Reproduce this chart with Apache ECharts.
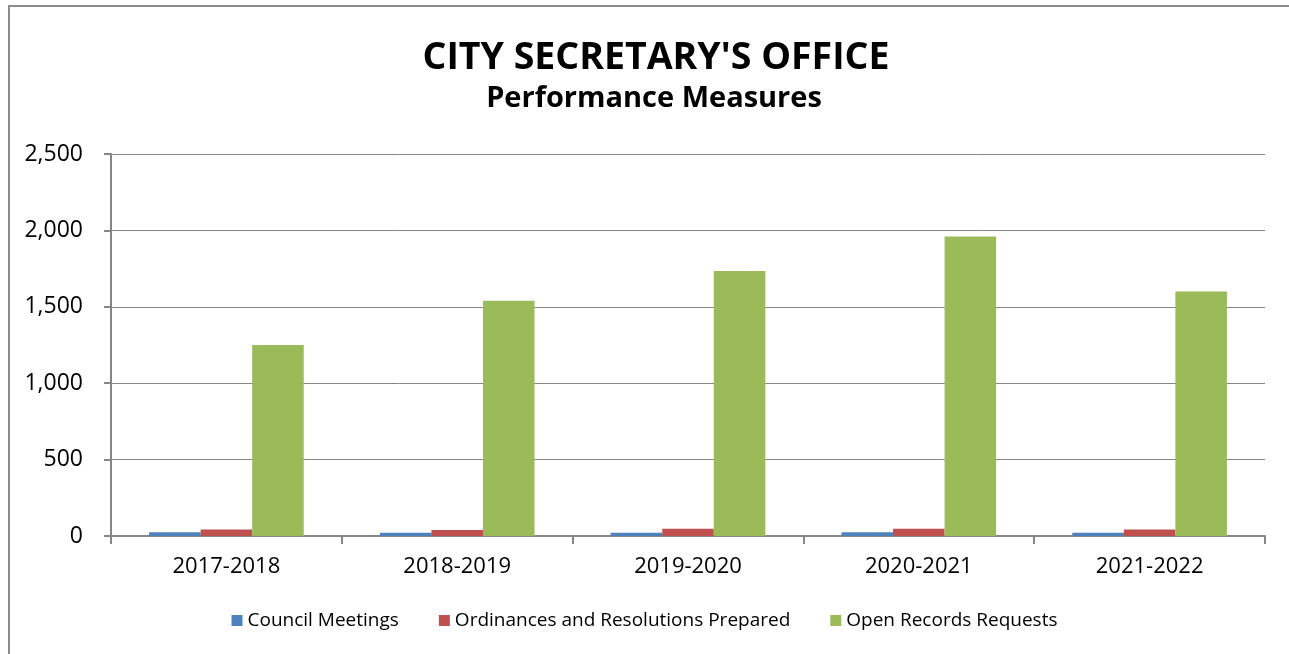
<!DOCTYPE html>
<html>
<head>
<meta charset="utf-8">
<script src="https://cdn.jsdelivr.net/npm/echarts@6/dist/echarts.min.js"></script>
<style>
  html, body { margin: 0; padding: 0; background: #fff; }
  #frame { position: absolute; left: 8px; top: 5px; width: 1290px; height: 660px; border: 2px solid #8c8c8c; box-sizing: border-box; }
  #chart { position: absolute; left: 0; top: 0; width: 1289px; height: 654px; }
</style>
</head>
<body>
<div id="frame"></div>
<div id="chart"></div>
<script>
// fiscal years
var years = ['2017-2018', '2018-2019', '2019-2020', '2020-2021', '2021-2022'];
var councilMeetings = [24, 22, 22, 24, 22];
var ordinances = [42, 40, 48, 48, 42];
var openRecords = [1250, 1540, 1735, 1960, 1600];
var yTicks = [0, 500, 1000, 1500, 2000, 2500];

var font = 'Open Sans';
var chart = echarts.init(document.getElementById('chart'));

function bar(name, data, color) {
  return {
    name: name,
    type: 'bar',
    data: data,
    barGap: '0%',
    barCategoryGap: '33%',
    itemStyle: { color: color },
    emphasis: { disabled: true }
  };
}

chart.setOption({
  animation: false,
  title: [
    {
      text: "CITY SECRETARY'S OFFICE",
      left: 651, top: 34, textAlign: 'center',
      textStyle: { fontFamily: font, fontSize: 37.5, fontWeight: 'bold', color: '#000' }
    },
    {
      text: 'Performance Measures',
      left: 649, top: 79, textAlign: 'center',
      textStyle: { fontFamily: font, fontSize: 29, fontWeight: 'bold', color: '#000' }
    }
  ],
  legend: {
    bottom: 19,
    left: 'center',
    itemWidth: 11,
    itemHeight: 11,
    itemGap: 40,
    icon: 'rect',
    textStyle: { fontFamily: font, fontSize: 19, color: '#000' },
    data: ['Council Meetings', 'Ordinances and Resolutions Prepared', 'Open Records Requests']
  },
  grid: { left: 111, right: 24, top: 154, bottom: 118 },
  xAxis: {
    type: 'category',
    data: years,
    axisLine: { lineStyle: { color: '#868686', width: 2 } },
    axisTick: { show: true, length: 8, lineStyle: { color: '#868686', width: 2 } },
    axisLabel: { fontFamily: font, fontSize: 22, color: '#000', margin: 20 }
  },
  yAxis: {
    type: 'value',
    min: yTicks[0],
    max: yTicks[yTicks.length - 1],
    interval: 500,
    axisLine: { show: true, lineStyle: { color: '#868686', width: 2 } },
    axisTick: { show: true, length: 7, lineStyle: { color: '#868686', width: 2 } },
    splitLine: { lineStyle: { color: '#868686', width: 1 } },
    axisLabel: {
      fontFamily: font, fontSize: 23, color: '#000', margin: 28,
      formatter: function (v) { return v.toLocaleString('en-US'); }
    }
  },
  series: [
    bar('Council Meetings', councilMeetings, '#4f81bd'),
    bar('Ordinances and Resolutions Prepared', ordinances, '#c0504d'),
    bar('Open Records Requests', openRecords, '#9bbb59')
  ]
});
</script>
</body>
</html>
